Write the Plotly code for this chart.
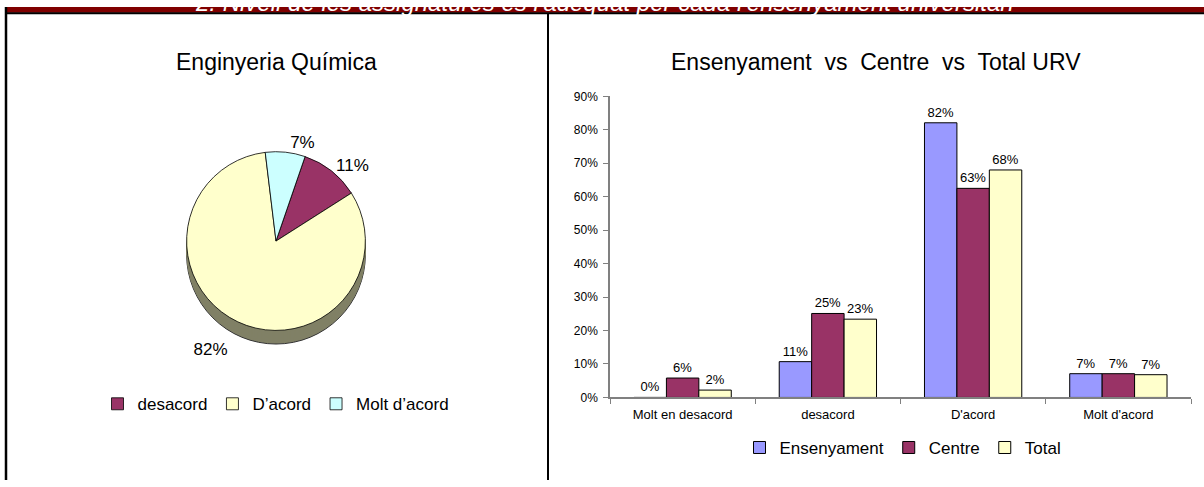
import plotly.graph_objects as go

W, H = 1204, 487

# Data
header = "2. Nivell de les assignatures és l'adequat per cada l'ensenyament universitari"

pie_title = "Enginyeria Química"
pie_labels = ["desacord", "D’acord", "Molt d’acord"]
pie_values = [10.7, 82.1, 7.2]
pie_colors = ["#993366", "#FFFFCC", "#CCFFFF"]

bar_title = "Ensenyament  vs  Centre  vs  Total URV"
categories = ["Molt en desacord", "desacord", "D'acord", "Molt d'acord"]
ensenyament = [0.0, 10.7, 82.1, 7.1]
centre = [5.8, 25.1, 62.5, 7.1]
total = [2.2, 23.4, 68.0, 6.8]
series_names = ["Ensenyament", "Centre", "Total"]
series_values = [ensenyament, centre, total]
series_colors = ["#9999FF", "#993366", "#FFFFCC"]
y_ticks = list(range(0, 91, 10))
y_ticktext = [f"{v}%" for v in y_ticks]

FONT = "Liberation Sans, Arial, sans-serif"


# pixel -> paper helpers (margins are zero)
def px(x):
    return x / W


def py(y):
    return 1 - y / H


fig = go.Figure()

# Pie side (3D look): stacked copies shifted down
depth = 14
for d in range(depth, 0, -1):
    fig.add_trace(go.Pie(
        labels=["side"], values=[1], sort=False,
        marker=dict(colors=["#808066"],
                    line=dict(color="#333333" if d == depth else "#808066", width=1 if d == depth else 0)),
        textinfo="none", hoverinfo="skip", showlegend=False,
        domain=dict(x=[px(184), px(368)], y=[py(333 + d), py(149 + d)])
    ))

# Pie top (big slice label pushed below the pie side with an empty first line)
fig.add_trace(go.Pie(
    labels=pie_labels, values=pie_values, sort=False,
    direction="clockwise", rotation=19,
    marker=dict(colors=pie_colors, line=dict(color="#000000", width=0.8)),
    texttemplate=["%{percent:.0%}", "\u00a0<br>%{percent:.0%}", "%{percent:.0%}"],
    textposition="outside",
    textfont=dict(size=17, color="#000000", family=FONT),
    hoverinfo="label+percent",
    domain=dict(x=[px(184), px(368)], y=[py(333), py(149)]),
    legend="legend2"
))

# Bars
for name, vals, col in zip(series_names, series_values, series_colors):
    fig.add_trace(go.Bar(
        x=categories, y=vals, name=name,
        marker=dict(color=col, line=dict(color="#000000", width=1)),
        texttemplate="%{y:.0f}%", textposition="outside",
        textfont=dict(size=13, color="#000000", family=FONT),
        cliponaxis=False, xaxis="x", yaxis="y", legend="legend"
    ))

shapes = [
    dict(type="rect", xref="paper", yref="paper", x0=px(6), x1=1, y0=py(6), y1=1,
         fillcolor="#800000", line=dict(width=0), layer="below"),
    dict(type="line", xref="paper", yref="paper", x0=px(5), x1=1, y0=py(6.5), y1=py(6.5),
         line=dict(color="#000000", width=2)),
    dict(type="line", xref="paper", yref="paper", x0=px(6), x1=px(6), y0=0, y1=1,
         line=dict(color="#000000", width=2.5)),
    dict(type="line", xref="paper", yref="paper", x0=px(548), x1=px(548), y0=0, y1=py(6.5),
         line=dict(color="#000000", width=2)),
]

annotations = [
    dict(text=header, x=px(604), y=py(11), xref="paper", yref="paper",
         xanchor="center", yanchor="bottom", showarrow=False,
         font=dict(size=24, color="#FFFFFF", family=FONT, style="italic")),
    dict(text=pie_title, x=px(276), y=py(57), xref="paper", yref="paper",
         xanchor="center", yanchor="middle", showarrow=False,
         font=dict(size=23, color="#000000", family=FONT)),
    dict(text=bar_title, x=px(876), y=py(57), xref="paper", yref="paper",
         xanchor="center", yanchor="middle", showarrow=False,
         font=dict(size=23, color="#000000", family=FONT)),
]

fig.update_layout(
    width=W, height=H, autosize=False,
    margin=dict(l=0, r=0, t=0, b=0),
    paper_bgcolor="#FFFFFF", plot_bgcolor="#FFFFFF",
    font=dict(family=FONT, color="#000000"),
    barmode="group", bargap=0.33, bargroupgap=0,
    xaxis=dict(
        domain=[px(610), px(1191)], anchor="y",
        showline=True, linecolor="#808080", linewidth=1.5,
        ticks="outside", tickson="boundaries", ticklen=5, tickcolor="#808080",
        tickfont=dict(size=13, color="#000000"), showgrid=False,
        ticklabelstandoff=4
    ),
    yaxis=dict(
        domain=[py(402), py(92)], anchor="x", range=[0, 90],
        tickvals=y_ticks, ticktext=y_ticktext,
        showline=True, linecolor="#808080", linewidth=1.5,
        ticks="outside", ticklen=5, tickcolor="#808080",
        tickfont=dict(size=12, color="#000000"),
        showgrid=False, zeroline=False, ticklabelstandoff=3
    ),
    legend=dict(
        orientation="h", x=px(903), xanchor="center", y=py(454), yanchor="middle",
        font=dict(size=17), bgcolor="rgba(0,0,0,0)", itemwidth=30, traceorder="normal"
    ),
    legend2=dict(
        orientation="h", x=px(276), xanchor="center", y=py(409), yanchor="middle",
        font=dict(size=17), bgcolor="rgba(0,0,0,0)", itemwidth=30, traceorder="normal"
    ),
    shapes=shapes,
    annotations=annotations,
)

# page without body margin so the figure fills the window
fig.write_html(
    "out.html",
    config={"displayModeBar": False},
    post_script="document.body.style.margin='0';document.body.style.overflow='hidden';"
)
